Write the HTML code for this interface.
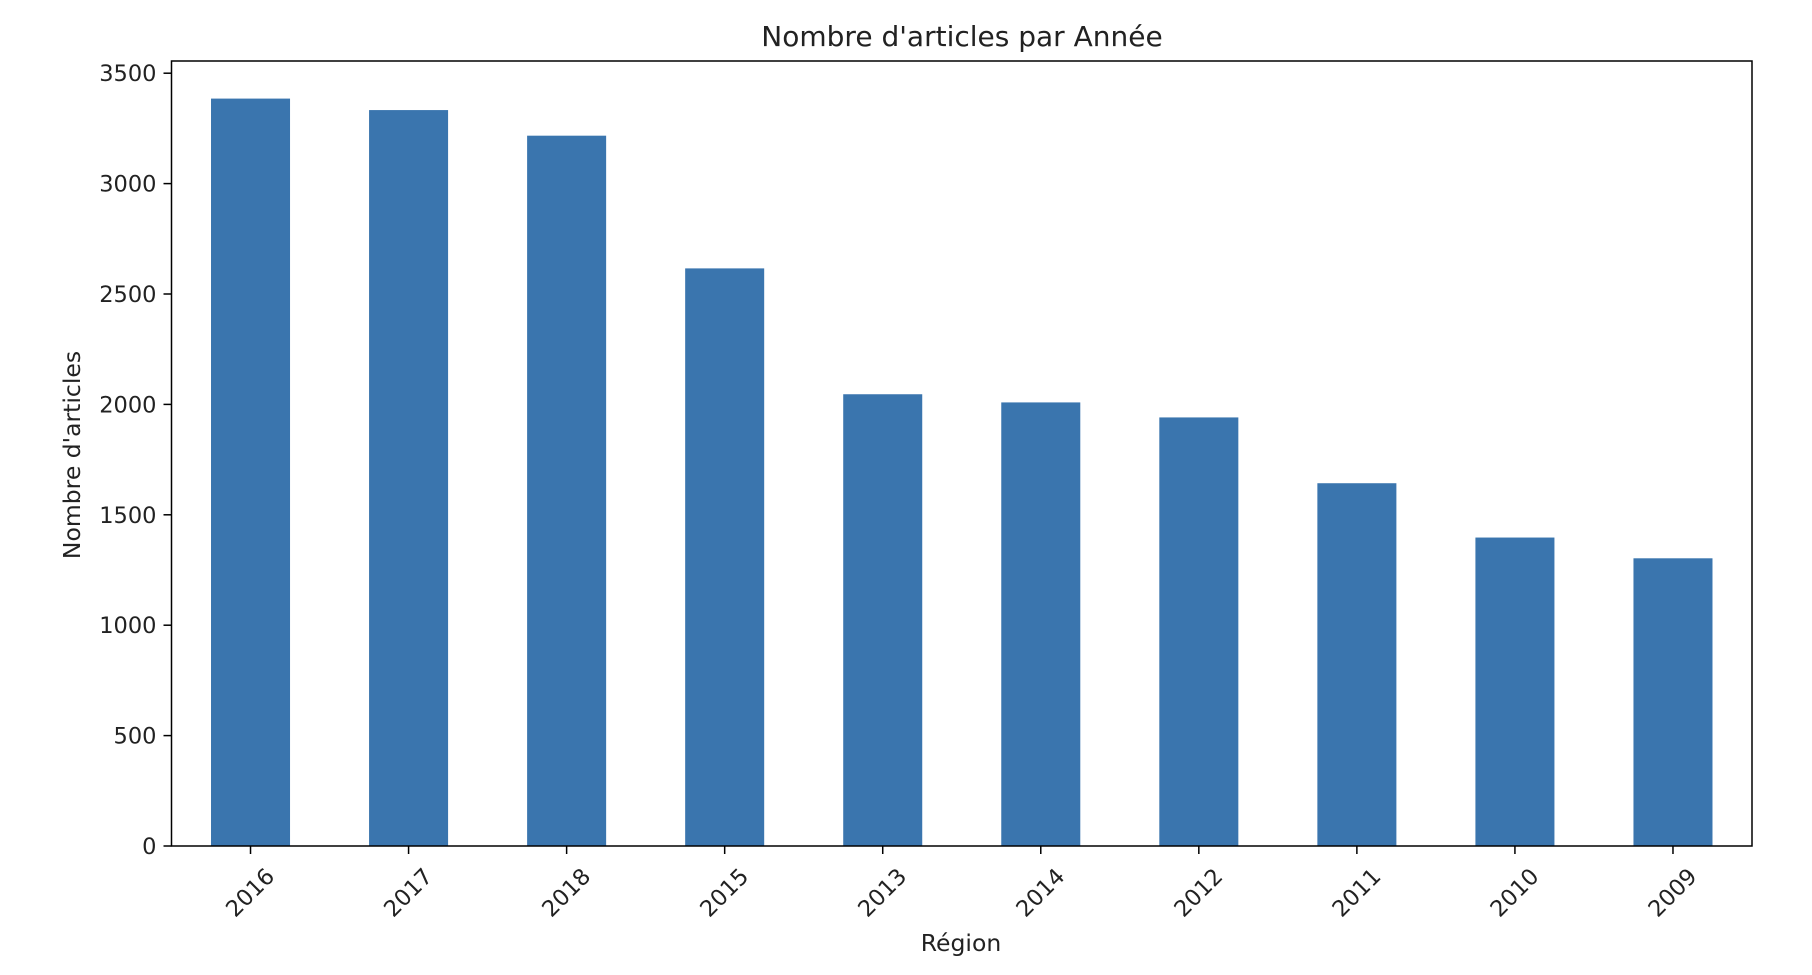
<!DOCTYPE html>
<html><head><meta charset="utf-8"><style>
html,body{margin:0;padding:0;background:#fff;}
svg text{font-family:"DejaVu Sans","Liberation Sans",sans-serif;fill:#222;}
</style></head><body>
<svg id="chart" width="1812" height="970" viewBox="0 0 1812 970" xmlns="http://www.w3.org/2000/svg">
<rect x="0" y="0" width="1812" height="970" fill="#fff"/>
<g id="bars"></g>
<g id="axes"></g>
<text x="962" y="46" font-size="28" text-anchor="middle">Nombre d'articles par Année</text>
<text x="0" y="0" font-size="23.5" text-anchor="middle" transform="translate(80,455) rotate(-90)">Nombre d'articles</text>
<text x="961" y="951" font-size="23.5" text-anchor="middle">Région</text>
</svg>
<script>
const categories = ["2016","2017","2018","2015","2013","2014","2012","2011","2010","2009"];
const values = [3385,3333,3217,2616,2046,2009,1941,1643,1397,1303];
const yTicks = [0,500,1000,1500,2000,2500,3000,3500];

const L=171.5,R=1752,T=61,B=846;
const pxPerUnit=110.4/500;
function yScale(v){return B - v*pxPerUnit;}
const slot=(R-L)/categories.length;
function xScale(i){return L + slot*(i+0.5);}
const NS="http://www.w3.org/2000/svg";
const bars=document.getElementById('bars'), axes=document.getElementById('axes');
function mk(tag,attrs,parent){const e=document.createElementNS(NS,tag);for(const k in attrs)e.setAttribute(k,attrs[k]);parent.appendChild(e);return e;}

categories.forEach((c,i)=>{
  const cx=xScale(i), w=slot*0.5, y=yScale(values[i]);
  const r=mk('rect',{x:cx-w/2,y:y,width:w,height:B-y,fill:'#3a75ae'},bars);
  
  
  const t=mk('line',{x1:cx,x2:cx,y1:B,y2:B+8,stroke:'#000','stroke-width':1.5},axes);
  
  
  const lb=mk('text',{x:0,y:0,'font-size':22.5,'text-anchor':'middle','dominant-baseline':'central',transform:'translate('+(cx)+',893) rotate(-45)'},axes);
  lb.textContent=c;
  
  
});
yTicks.forEach(v=>{
  const y=yScale(v);
  const t=mk('line',{x1:L-8,x2:L,y1:y,y2:y,stroke:'#000','stroke-width':1.5},axes);
  
  
  const lb=mk('text',{x:L-15,y:y+8,'font-size':22.5,'text-anchor':'end'},axes);
  lb.textContent=v;
  
  
});
const f=mk('rect',{x:L,y:T,width:R-L,height:B-T,fill:'none',stroke:'#000','stroke-width':1.5},axes);


</script>
</body></html>
